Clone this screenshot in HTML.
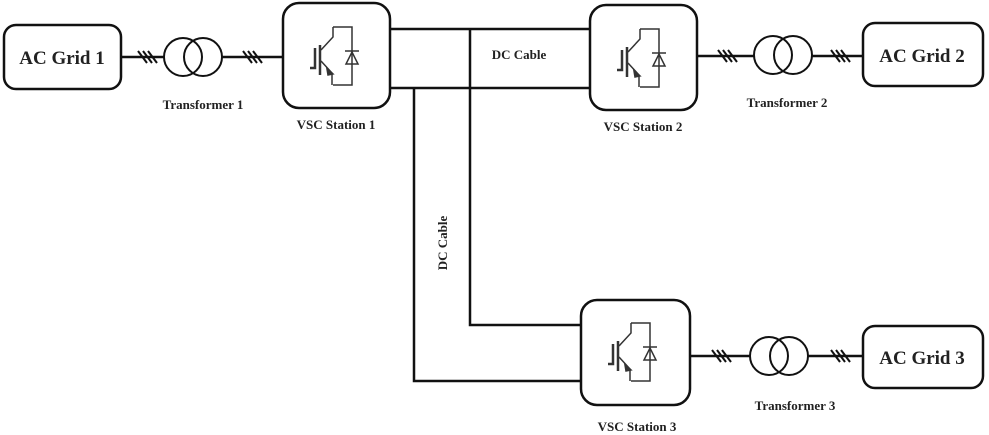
<!DOCTYPE html>
<html><head><meta charset="utf-8"><style>
html,body{margin:0;padding:0;background:#fff;}
svg{display:block;}
text{font-family:"Liberation Serif",serif;font-weight:bold;fill:#222;}
</style></head><body>
<svg width="989" height="435" viewBox="0 0 989 435" xmlns="http://www.w3.org/2000/svg">
<defs>
<g id="igbt" fill="none" stroke="#333" stroke-width="1.5">
  <path d="M50 24 H69 V82 H50"/>
  <path d="M50 24 V34 L38 47"/>
  <path d="M38 58 L49 70 V82"/>
  <path d="M44 66 L50 71 L45 72 Z" fill="#333"/>
  <line x1="37" y1="42" x2="37" y2="72" stroke-width="2.5"/>
  <path d="M32 45 V65 H27" stroke-width="2.5"/>
  <path d="M63 61 H75 L69 49 Z"/>
  <line x1="62" y1="48" x2="76" y2="48"/>
</g>
<g id="tr" fill="none" stroke="#111" stroke-width="2">
  <circle cx="-10" cy="0" r="19"/>
  <circle cx="10" cy="0" r="19"/>
</g>
<g id="hash" stroke="#111" stroke-width="2">
  <line x1="-9" y1="-6" x2="0" y2="6"/>
  <line x1="-4" y1="-6" x2="5" y2="6"/>
  <line x1="1" y1="-6" x2="10" y2="6"/>
</g>
</defs>
<g fill="none" stroke="#111" stroke-width="2.5">
  <rect x="4" y="25" width="117" height="64" rx="12"/>
  <rect x="863" y="23" width="120" height="63" rx="12"/>
  <rect x="863" y="326" width="120" height="62" rx="12"/>
  <rect x="283" y="3" width="107" height="105" rx="16"/>
  <rect x="590" y="5" width="107" height="105" rx="16"/>
  <rect x="581" y="300" width="109" height="105" rx="16"/>
  <path d="M121 57 H164 M222 57 H283"/>
  <path d="M697 56 H754 M812 56 H863"/>
  <path d="M690 356 H750 M808 356 H863"/>
  <path d="M390 29 H590 M390 88 H590"/>
  <path d="M470 29 V325 H581"/>
  <path d="M414 88 V381 H581"/>
</g>
<use href="#tr" x="193" y="57"/>
<use href="#tr" x="783" y="55"/>
<use href="#tr" x="779" y="356"/>
<use href="#hash" x="147" y="57"/>
<use href="#hash" x="252" y="57"/>
<use href="#hash" x="727" y="56"/>
<use href="#hash" x="840" y="56"/>
<use href="#hash" x="721" y="356"/>
<use href="#hash" x="840" y="356"/>
<use href="#igbt" x="283" y="3"/>
<use href="#igbt" x="590" y="5"/>
<use href="#igbt" x="581" y="299"/>
<text x="62" y="64" font-size="19" text-anchor="middle">AC Grid 1</text>
<text x="922" y="62" font-size="19" text-anchor="middle">AC Grid 2</text>
<text x="922" y="364" font-size="19" text-anchor="middle">AC Grid 3</text>
<text x="203" y="109" font-size="13" text-anchor="middle">Transformer 1</text>
<text x="787" y="107" font-size="13" text-anchor="middle">Transformer 2</text>
<text x="795" y="410" font-size="13" text-anchor="middle">Transformer 3</text>
<text x="336" y="129" font-size="13" text-anchor="middle">VSC Station 1</text>
<text x="643" y="131" font-size="13" text-anchor="middle">VSC Station 2</text>
<text x="637" y="431" font-size="13" text-anchor="middle">VSC Station 3</text>
<text x="519" y="59" font-size="13" text-anchor="middle">DC Cable</text>
<text x="0" y="0" font-size="13" text-anchor="middle" transform="translate(447 243) rotate(-90)">DC Cable</text>
</svg>
</body></html>
